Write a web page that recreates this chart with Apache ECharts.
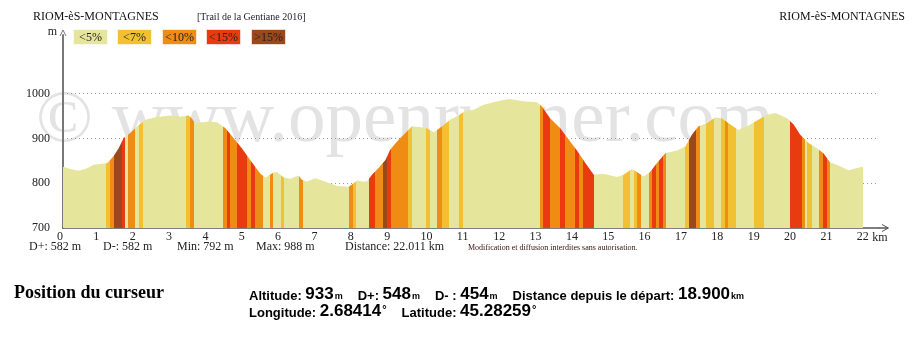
<!DOCTYPE html>
<html>
<head>
<meta charset="utf-8">
<script src="https://cdn.jsdelivr.net/npm/echarts@6.0.0/dist/echarts.min.js"></script>
<style>
html,body{margin:0;padding:0;background:#fff;}
#chart{width:923px;height:338px;}
</style>
</head>
<body>
<div id="chart"></div>
<script>
// ---- data ----
const distKm = [0,0.2,0.43,0.65,0.84,1.03,1.22,1.39,1.53,1.67,1.85,2.04,2.31,2.59,2.95,3.23,3.46,3.55,3.64,3.96,4.24,4.47,4.69,4.92,5.15,5.43,5.57,5.79,5.89,6.07,6.25,6.48,6.57,6.71,6.94,7.26,7.54,7.86,7.95,8.09,8.23,8.36,8.5,8.68,8.87,9.0,9.19,9.37,9.6,9.83,10.01,10.2,10.43,10.65,10.93,11.07,11.3,11.57,11.85,12.12,12.3,12.44,12.67,13.04,13.18,13.4,13.68,13.95,14.14,14.37,14.6,14.87,15.24,15.42,15.65,15.79,15.97,16.15,16.34,16.57,16.62,16.89,17.12,17.3,17.48,17.71,17.94,18.12,18.36,18.58,18.86,19.13,19.37,19.6,19.92,20.1,20.28,20.51,20.74,20.92,21.1,21.38,21.61,21.84,22.011];
const elevM = [837,832,828,833,841,843,845,860,878,901,912,927,943,948,951,949,951,944,934,937,936,923,901,878,852,821,813,824,825,813,810,817,808,804,811,802,794,792,797,806,804,804,819,834,852,875,893,908,927,925,923,914,927,942,954,962,964,975,981,986,988,986,983,981,971,945,923,893,873,845,819,821,814,819,832,825,815,825,845,867,870,873,882,908,927,934,947,945,931,919,929,942,953,957,945,931,908,890,878,867,847,838,829,834,837];
// slope bands: start km of each band and its slope class (index into gradeLabels)
const gradeBreaks = [0,1.19,1.30,1.40,1.61,1.70,1.80,1.99,2.10,2.21,3.38,3.48,3.59,4.40,4.50,4.60,4.80,5.06,5.18,5.29,5.50,5.70,5.79,6.00,6.09,6.50,6.60,7.88,7.97,8.07,8.41,8.59,8.80,8.90,9.01,9.50,9.60,9.99,10.10,10.29,10.43,10.61,10.88,11.00,13.11,13.20,13.40,13.68,13.82,14.09,14.20,14.31,14.60,15.40,15.61,15.70,15.80,15.90,16.11,16.20,16.30,16.39,16.50,16.60,17.12,17.21,17.40,17.53,17.70,17.90,18.10,18.20,18.30,18.50,19.00,19.29,19.99,20.32,20.40,20.48,20.61,20.79,20.90,21.01,21.10];
const gradeClass  = [0,1,2,4,3,0,2,0,1,0,1,2,0,2,3,2,3,2,3,2,0,2,0,1,0,2,0,2,1,0,3,2,4,3,2,1,0,1,0,2,1,0,1,0,2,3,2,3,2,3,2,3,0,1,0,1,2,0,2,3,2,3,2,0,1,4,2,0,1,0,1,2,1,0,1,0,3,2,0,1,0,2,3,2,0];
const totalKm = 22.011;
const gradeLabels = ['<5%','<7%','<10%','<15%','>15%'];
const gradeColors = ['#e5e59b','#f2c133','#f08b13','#e93b10','#9b481d'];
const yTicks = [700,800,900,1000];
const placeName = 'RIOM-èS-MONTAGNES';
const eventName = '[Trail de la Gentiane 2016]';
const summaryStats = ['D+: 582 m','D-: 582 m','Min: 792 m','Max: 988 m','Distance: 22.011 km'];
const cursorLine1 = [['Altitude: ','933','m'],['D+: ','548','m'],['D- : ','454','m'],['Distance depuis le départ: ','18.900','km']];
const cursorLine2 = [['Longitude: ','2.68414','°'],['Latitude: ','45.28259','°']];

// ---- build ----
const serif = '"Liberation Serif", "Times New Roman", serif';
const sans = '"Liberation Sans", Arial, sans-serif';
const profile = distKm.map((d,i)=>[d, elevM[i]]);
const pieces = gradeBreaks.map((b,i)=>{
  const end = i < gradeBreaks.length-1 ? gradeBreaks[i+1] : totalKm;
  const p = {gte:b, color: gradeColors[gradeClass[i]]};
  if (i < gradeBreaks.length-1) p.lt = end; else p.lte = end;
  return p;
});

const statX = [29,103,177,256,345];
const legendX = [73,117,162,206,251];
const graphics = [];
graphics.push({type:'text', z:0, silent:true, style:{text:'© www.openrunner.com', x:36, y:121, font:'75px '+serif, fill:'#e3e3e3', verticalAlign:'middle'}});
graphics.push({type:'text', z:10, style:{text:placeName, x:33, y:17, font:'12px '+serif, fill:'#111', verticalAlign:'middle'}});
graphics.push({type:'text', z:10, style:{text:eventName, x:197, y:17, font:'10px '+serif, fill:'#223', verticalAlign:'middle'}});
graphics.push({type:'text', z:10, style:{text:placeName, x:905, y:17, font:'12px '+serif, fill:'#111', align:'right', verticalAlign:'middle'}});
gradeLabels.forEach((lab,i)=>{
  graphics.push({type:'rect', z:10, shape:{x:legendX[i]+0.5, y:29.5, width:34, height:15}, style:{fill:gradeColors[i], stroke:'rgba(255,255,255,0.6)', lineWidth:1}});
  graphics.push({type:'text', z:11, style:{text:lab, x:legendX[i]+17.5, y:37.5, font:'12px '+serif, fill:'#222', align:'center', verticalAlign:'middle'}});
});
graphics.push({type:'text', z:10, style:{text:'m', x:57, y:32, font:'12px '+serif, fill:'#222', align:'right', verticalAlign:'middle'}});
graphics.push({type:'polyline', z:10, shape:{points:[[60,36],[63,30],[66,36]]}, style:{stroke:'#777', lineWidth:1, fill:null}});
graphics.push({type:'line', z:10, shape:{x1:878, y1:228, x2:888, y2:228}, style:{stroke:'#555', lineWidth:1.5}});
graphics.push({type:'polyline', z:10, shape:{points:[[882,224.5],[888.5,228],[882,231.5]]}, style:{stroke:'#555', lineWidth:1, fill:null}});
graphics.push({type:'text', z:10, style:{text:'km', x:880, y:238, font:'12px '+serif, fill:'#222', align:'center', verticalAlign:'middle'}});
summaryStats.forEach((s,i)=>{
  graphics.push({type:'text', z:10, style:{text:s, x:statX[i], y:246.5, font:'12px '+serif, fill:'#222', verticalAlign:'middle'}});
});
graphics.push({type:'text', z:10, style:{text:'Modification et diffusion interdites sans autorisation.', x:468, y:247.5, font:'8px '+serif, fill:'#311', verticalAlign:'middle'}});
graphics.push({type:'text', z:10, style:{text:'Position du curseur', x:14, y:293, font:'bold 18px '+serif, fill:'#000', verticalAlign:'middle'}});
function richLine(items){
  return items.map(it=>'{l|'+it[0]+'}{n|'+it[1]+'}{u|'+it[2]+'}').join('{g|}');
}
const richStyles = {
  l:{font:'bold 13px '+sans, fill:'#000', verticalAlign:'bottom'},
  n:{font:'bold 17px '+sans, fill:'#000', verticalAlign:'bottom'},
  u:{font:'bold 9px '+sans, fill:'#000', verticalAlign:'bottom', padding:[0,0,1,1]},
  g:{width:15}
};
graphics.push({type:'text', z:10, style:{text:richLine(cursorLine1), x:249, y:294, rich:richStyles, verticalAlign:'middle'}});
const r2 = Object.assign({}, richStyles, {u:{font:'bold 11px '+sans, fill:'#000', verticalAlign:'top', padding:[2,0,0,1]}});
graphics.push({type:'text', z:10, style:{text:richLine(cursorLine2), x:249, y:311, rich:r2, verticalAlign:'middle'}});

const chart = echarts.init(document.getElementById('chart'), null, {renderer:'canvas'});
chart.setOption({
  animation:false,
  backgroundColor:'#fff',
  grid:{left:63, right:45, top:35, bottom:110, containLabel:false},
  xAxis:{
    type:'value', min:0, max:22.42, interval:1,
    axisLine:{show:true, onZero:false, lineStyle:{color:'#555', width:1.5}},
    axisTick:{show:false},
    splitLine:{show:false},
    axisLabel:{show:true, margin:3, fontFamily:serif, fontSize:12, color:'#222',
      formatter:v=> (Number.isInteger(v) && v<=22) ? '{a|'+v+'}' : '',
      rich:{a:{width:12, align:'left', fontFamily:serif, fontSize:12, color:'#222'}}}
  },
  yAxis:{
    type:'value', min:700, max:1131, interval:100,
    axisLine:{show:true, onZero:false, lineStyle:{color:'#777', width:2}},
    axisTick:{show:false},
    splitLine:{show:true, lineStyle:{type:[1,3], width:1,
      color:['rgba(0,0,0,0)','#999','#999','#999','rgba(0,0,0,0)','rgba(0,0,0,0)']}},
    axisLabel:{show:true, margin:13, fontFamily:serif, fontSize:12, color:'#222',
      formatter:v=> yTicks.indexOf(v)>=0 ? String(v) : ''}
  },
  visualMap:{type:'piecewise', show:false, dimension:0, seriesIndex:0, pieces:pieces},
  series:[{
    type:'line', data:profile, symbol:'none', z:2,
    lineStyle:{width:0, opacity:0},
    areaStyle:{opacity:1, origin:'start'}
  }],
  graphic:graphics
});
</script>
</body>
</html>
